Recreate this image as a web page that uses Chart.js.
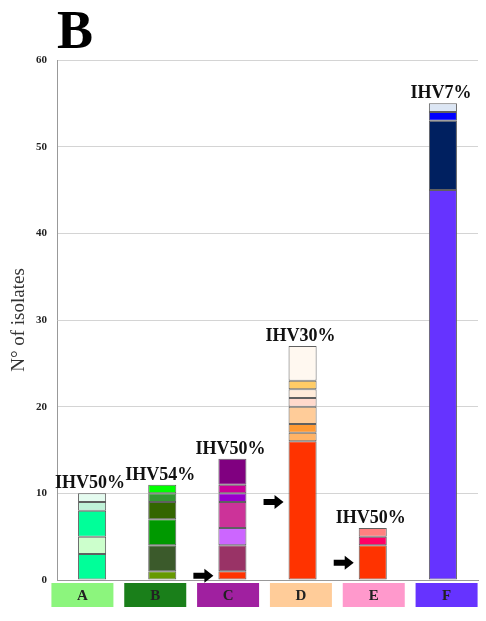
<!DOCTYPE html>
<html>
<head>
<meta charset="utf-8">
<script src="https://cdn.jsdelivr.net/npm/chart.js@4/dist/chart.umd.min.js"></script>
<style>
  html, body { margin: 0; padding: 0; background: #fff; }
  #wrap { width: 486px; height: 621px; position: relative; }
</style>
</head>
<body>
<div id="wrap"><canvas id="c" width="486" height="621"></canvas></div>
<script>
// Clusters and their genotype composition (isolates per genotype, bottom to top)
const categories = ['A', 'B', 'C', 'D', 'E', 'F'];
const segA = [3, 2, 3, 1, 1];
const segB = [1, 3, 3, 2, 1, 1];
const segC = [1, 3, 2, 3, 1, 1, 3];
const segD = [16, 1, 1, 2, 1, 1, 1, 4];
const segE = [4, 1, 1];
const segF = [45, 8, 1, 1];

const colA = ['#00FF99', '#CCFFCC', '#00FF99', '#C0F2D8', '#E4FBEF'];
const colB = ['#669900', '#3B5A2B', '#009900', '#336600', '#339933', '#00FF00'];
const colC = ['#FF3300', '#993366', '#CC66FF', '#CC3399', '#9900CC', '#CC0099', '#800080'];
const colD = ['#FF3300', '#FFB366', '#FF9933', '#FFCC99', '#FFD9CC', '#FFEBDA', '#FFCC66', '#FFF8F0'];
const colE = ['#FF3300', '#FF0066', '#FF8080'];
const colF = ['#6633FF', '#002060', '#0000FF', '#DCE6F4'];

const boxColors = ['#8CF57D', '#1A7F1A', '#A020A0', '#FFCC99', '#FF99CC', '#6633FF'];
const ihvLabels = ['IHV50%', 'IHV54%', 'IHV50%', 'IHV30%', 'IHV50%', 'IHV7%'];
// Arrows mark the shared genotype in clusters C, D and E (value on the y axis)
const arrowAt = [null, null, 0.5, 9, 2, null];
const yTicks = [0, 10, 20, 30, 40, 50, 60];

const segs = [segA, segB, segC, segD, segE, segF];
const cols = [colA, colB, colC, colD, colE, colF];
const levels = Math.max(...segs.map(s => s.length));

const datasets = [];
for (let k = 0; k < levels; k++) {
  datasets.push({
    label: 'level ' + (k + 1),
    data: segs.map(s => (k < s.length ? s[k] : null)),
    backgroundColor: cols.map(c => (k < c.length ? c[k] : 'transparent')),
    borderColor: '#606060',
    borderWidth: 1,
    borderSkipped: false,
    categoryPercentage: 1.0,
    barPercentage: 0.4
  });
}

const serif = '"Liberation Serif", "Times New Roman", Times, serif';

const decorations = {
  id: 'decorations',
  afterDraw(chart) {
    const ctx = chart.ctx;
    const xs = chart.scales.x;
    const ys = chart.scales.y;
    const area = chart.chartArea;
    const mid = (area.left + area.right) / 2;
    ctx.save();

    // panel letter
    ctx.fillStyle = '#000';
    ctx.font = 'bold 54px ' + serif;
    ctx.textAlign = 'left';
    ctx.textBaseline = 'alphabetic';
    ctx.fillText('B', area.left, 48);

    categories.forEach((cat, i) => {
      const x = xs.getPixelForValue(i);
      const total = segs[i].reduce((a, b) => a + b, 0);
      const top = ys.getPixelForValue(total);

      // label above each stack
      ctx.fillStyle = '#111';
      ctx.font = 'bold 18px ' + serif;
      ctx.textAlign = 'center';
      ctx.textBaseline = 'alphabetic';
      ctx.fillText(ihvLabels[i], x - 2, top - 5);

      // cluster boxes under the axis
      const bx = mid - 3 + (x - mid) * 1.038;
      const bw = 62, bh = 24, by = area.bottom + 3;
      ctx.fillStyle = boxColors[i];
      ctx.fillRect(bx - bw / 2, by, bw, bh);
      ctx.fillStyle = '#222';
      ctx.font = 'bold 15px ' + serif;
      ctx.textBaseline = 'middle';
      ctx.fillText(cat, bx, by + bh / 2 + 1);

      // arrows
      if (arrowAt[i] !== null) {
        const meta = chart.getDatasetMeta(0).data[i];
        const left = meta.x - meta.width / 2;
        const ay = ys.getPixelForValue(arrowAt[i]);
        const tip = left - 5;
        ctx.fillStyle = '#000';
        ctx.beginPath();
        ctx.moveTo(tip - 20, ay - 3);
        ctx.lineTo(tip - 9, ay - 3);
        ctx.lineTo(tip - 9, ay - 7);
        ctx.lineTo(tip, ay);
        ctx.lineTo(tip - 9, ay + 7);
        ctx.lineTo(tip - 9, ay + 3);
        ctx.lineTo(tip - 20, ay + 3);
        ctx.closePath();
        ctx.fill();
      }
    });
    ctx.restore();
  }
};

new Chart(document.getElementById('c'), {
  type: 'bar',
  data: { labels: categories, datasets },
  options: {
    responsive: false,
    animation: false,
    layout: { padding: { top: 60, left: 8, right: 8, bottom: 33 } },
    plugins: { legend: { display: false }, tooltip: { enabled: false } },
    scales: {
      x: {
        stacked: true,
        grid: { display: false },
        border: { display: true, color: '#999', width: 1 },
        ticks: { display: false }
      },
      y: {
        stacked: true,
        min: 0,
        max: 60,
        afterBuildTicks: axis => { axis.ticks = yTicks.map(v => ({ value: v })); },
        afterFit: axis => { axis.width = 49; },
        grid: { color: '#d4d4d4', drawTicks: false },
        border: { display: true, color: '#999', width: 1 },
        ticks: {
          padding: 10,
          color: '#222',
          font: { family: serif, size: 11, weight: 'bold' }
        },
        title: {
          display: true,
          text: 'N° of isolates',
          color: '#333',
          font: { family: serif, size: 19 },
          padding: { top: 0, bottom: 2 }
        }
      }
    }
  },
  plugins: [decorations]
});
</script>
</body>
</html>
